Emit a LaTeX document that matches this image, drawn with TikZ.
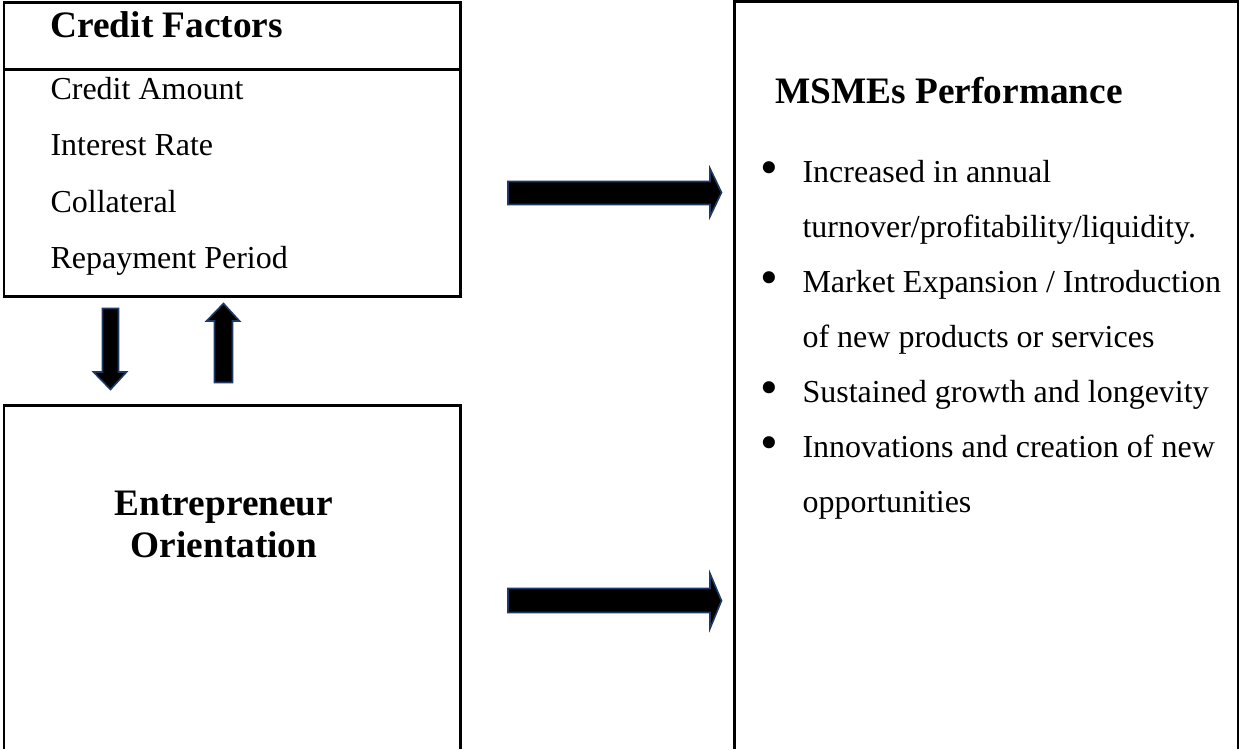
\documentclass[tikz,border=0pt]{standalone}
\usepackage{fontspec}
\setmainfont{Liberation Serif}
\definecolor{arrowedge}{RGB}{31,56,100}
\begin{document}
\begin{tikzpicture}[x=0.375pt,y=-0.375pt,
  frame/.style={line width=1pt, line join=miter},
  blockarrow/.style={fill=black, draw=arrowedge, line width=0.6pt, line join=miter},
  heading/.style={font=\fontsize{14}{16}\selectfont\bfseries, inner sep=0pt},
  item/.style={font=\fontsize{12}{14}\selectfont, inner sep=0pt, anchor=base west},
  dot/.style={font=\fontsize{19}{20}\selectfont, inner sep=0pt, anchor=center},
]
\useasboundingbox (0,0) rectangle (1240,749);

% Credit factors box with its title row
\draw[frame] (4,2.5) rectangle (460.7,296.5);
\draw[frame] (4,69.3) -- (460.7,69.3);
% Entrepreneur orientation box (open at the bottom edge)
\draw[frame] (4,749) -- (4,405.5) -- (460.7,405.5) -- (460.7,749);
% MSMEs performance box
\draw[frame] (734.5,749) -- (734.5,1.5) -- (1238,1.5) -- (1238,749);

% Credit factors
\node[heading, anchor=base west] (cf) at (50,37) {Credit Factors};
\node[item] (cf1) at (50,99) {Credit Amount};
\node[item] (cf2) at (50,155.5) {Interest Rate};
\node[item] (cf3) at (50,212) {Collateral};
\node[item] (cf4) at (50,268.5) {Repayment Period};

% Entrepreneur orientation
\node[heading, anchor=base] (eo1) at (224,515) {Entrepreneur};
\node[heading, anchor=base] (eo2) at (224,557) {Orientation};

% MSMEs performance
\node[heading, anchor=base west] (mp) at (775,103) {MSMEs Performance};
\node[dot] (b1) at (769,173) {•};
\node[item] (p1) at (802,182) {Increased in annual};
\node[item] (p2) at (802,237) {turnover/profitability/liquidity.};
\node[dot] (b2) at (769,283) {•};
\node[item] (p3) at (802,292) {Market Expansion / Introduction};
\node[item] (p4) at (802,347) {of new products or services};
\node[dot] (b3) at (769,393) {•};
\node[item] (p5) at (802,402) {Sustained growth and longevity};
\node[dot] (b4) at (769,448) {•};
\node[item] (p6) at (802,457) {Innovations and creation of new};
\node[item] (p7) at (802,512) {opportunities};

% Block arrows
\filldraw[blockarrow] (508,181.5) -- (710,181.5) -- (710,168.5) -- (721.5,192.5)
  -- (710,216.5) -- (710,204.5) -- (508,204.5) -- cycle;
\filldraw[blockarrow] (508,588.5) -- (710,588.5) -- (710,573.5) -- (721.5,600.7)
  -- (710,628.5) -- (710,612.5) -- (508,612.5) -- cycle;
\filldraw[blockarrow] (102.5,308.5) -- (118.5,308.5) -- (118.5,372) -- (126.5,372)
  -- (110.5,389.5) -- (93.5,372) -- (102.5,372) -- cycle;
\filldraw[blockarrow] (214.5,382.5) -- (232.5,382.5) -- (232.5,321) -- (239.5,321)
  -- (223.5,303.5) -- (206.5,321) -- (214.5,321) -- cycle;
\end{tikzpicture}
\end{document}
